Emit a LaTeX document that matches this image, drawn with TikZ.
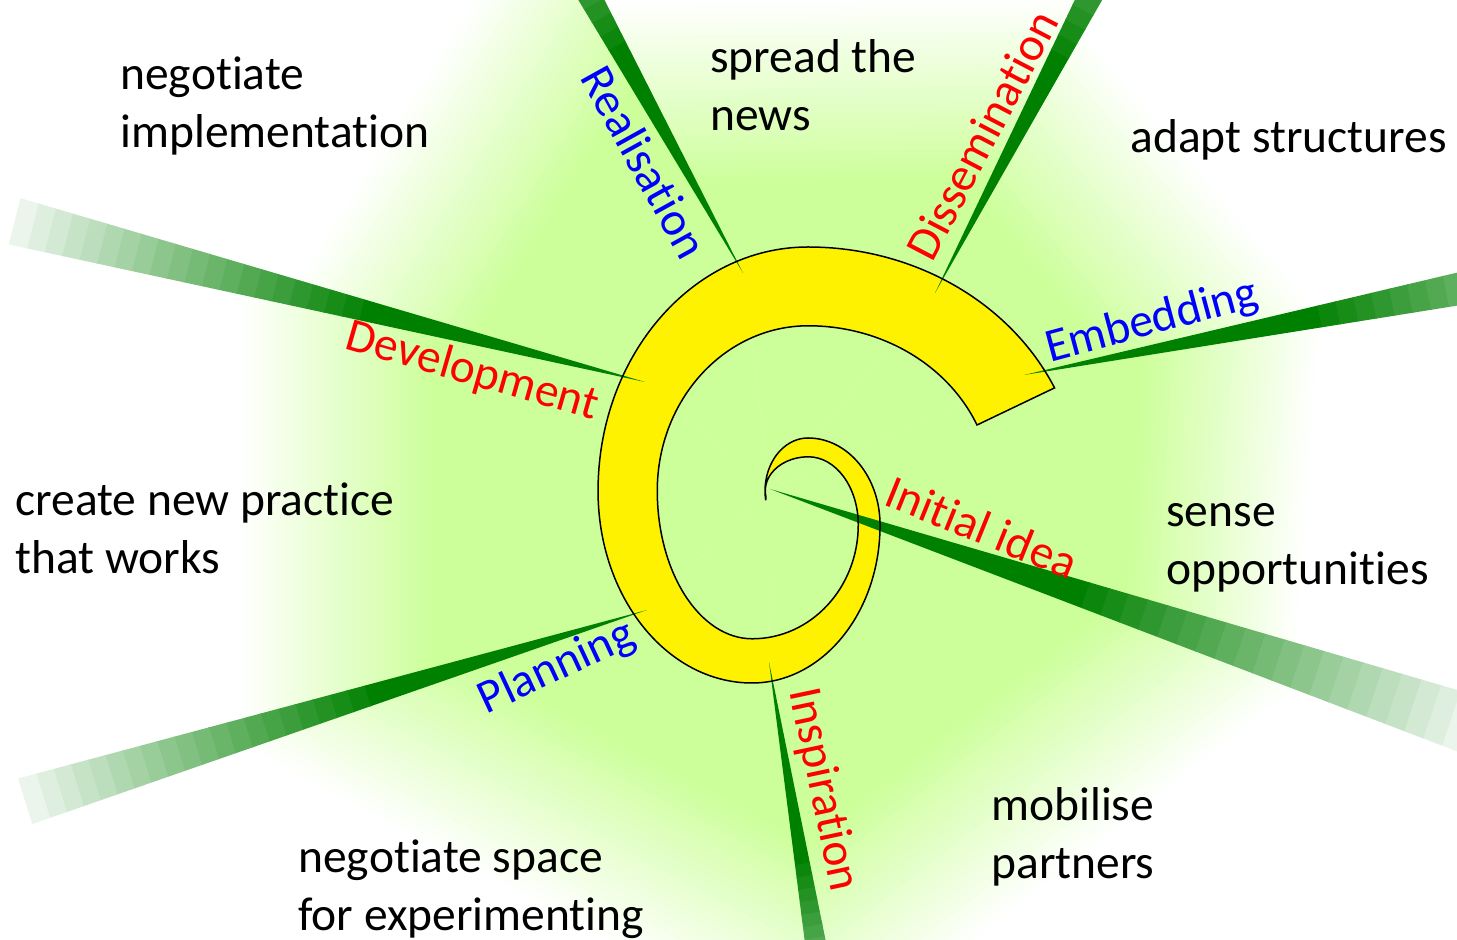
\documentclass[tikz,border=0pt]{standalone}
\usepackage{fontspec}
\setmainfont[Ligatures=NoCommon]{Carlito}
\usetikzlibrary{calc}
\definecolor{bggreen}{RGB}{204,255,153}
\definecolor{raygreen}{RGB}{0,128,0}
\definecolor{phasered}{RGB}{255,0,0}
\definecolor{phaseblue}{RGB}{0,0,255}

\newcommand{\greenray}[4]{
  \fill[raygreen] (#1) -- ($(#1)+(#2+#4:0.45*#3+1)$) -- ($(#1)+(#2-#4:0.45*#3+1)$) -- cycle;
  \foreach \k in {1,...,20}{
    \pgfmathsetmacro\ra{#3*(0.45+0.55*(\k-1)/20)}
    \pgfmathsetmacro\rb{#3*(0.45+0.55*\k/20)+1}
    \pgfmathsetmacro\mix{100-4.6*\k}
    \fill[raygreen!\mix!white] ($(#1)+(#2+#4:\ra)$) -- ($(#1)+(#2+#4:\rb)$)
      -- ($(#1)+(#2-#4:\rb)$) -- ($(#1)+(#2-#4:\ra)$) -- cycle;
  }
}

\newcommand{\bgsector}[7]{
  \begin{scope}
    \clip (#1) -- ($(#1)+(#2:1800)$) -- ($(#3)+(#4:1800)$) -- (#3) -- (c) -- cycle;
    \foreach \k in {1,...,24}{
      \pgfmathsetmacro\dk{#7-(#7-#6)*\k/24}
      \pgfmathsetmacro\mix{100*\k/24}
      \begin{scope}[shift={(c)}, rotate=#5]
        \fill[bggreen!\mix!white] (-2000,-2000) rectangle (\dk,2000);
      \end{scope}
    }
  \end{scope}
}

\newcommand{\spiralpath}{(765.7,-500.2)
  arc[start angle=190, end angle=90, x radius=43, y radius=53]
  arc[start angle=90, end angle=0, x radius=72, y radius=87]
  arc[start angle=0, end angle=-90, x radius=128, y radius=158]
  arc[start angle=-90, end angle=-180, x radius=154, y radius=192]
  arc[start angle=180, end angle=90, x radius=210, y radius=244]
  arc[start angle=90, end angle=25, x radius=272, y radius=244]
  -- (977,-425)
  arc[start angle=23.5, end angle=90, x radius=184, y radius=165]
  arc[start angle=90, end angle=180, x radius=151, y radius=165]
  arc[start angle=180, end angle=270, x radius=95, y radius=148]
  arc[start angle=270, end angle=360, x radius=106, y radius=114]
  arc[start angle=0, end angle=90, x radius=50, y radius=68]
  arc[start angle=90, end angle=190, x radius=43, y radius=34]
  -- cycle}

\tikzset{
  bigfont/.style={font=\fontsize{23.75}{29}\selectfont},
  plaintext/.style={bigfont, anchor=base west, align=left, inner sep=0pt},
  redphase/.style={bigfont, inner sep=0pt, text=phasered},
  bluephase/.style={bigfont, inner sep=0pt, text=phaseblue}
}

\begin{document}
\begin{tikzpicture}[x=0.5pt, y=0.5pt]
\useasboundingbox (0,0) rectangle (1457,-940);
\clip (0,0) rectangle (1457,-940);
\fill[white] (0,0) rectangle (1457,-940);

\coordinate (c) at (770,-490);
\coordinate (realtip) at (743,-273);
\coordinate (disstip) at (935,-293);
\coordinate (embtip) at (1024,-375);
\coordinate (inittip) at (770,-489);
\coordinate (insptip) at (769,-662);
\coordinate (plantip) at (647,-610);
\coordinate (devtip) at (645,-382);

\bgsector{realtip}{119}{disstip}{62.4}{90.7}{307}{495}
\bgsector{disstip}{62.4}{embtip}{11.2}{40}{345}{540}
\bgsector{embtip}{11.2}{inittip}{-18.6}{-4}{363}{542}
\bgsector{inittip}{-18.6}{insptip}{-80.6}{-52}{300}{486}
\bgsector{insptip}{-80.6}{plantip}{197.1}{-118}{293}{479}
\bgsector{plantip}{197.1}{devtip}{165.7}{180}{337}{535}
\bgsector{devtip}{165.7}{realtip}{119}{148}{330}{517}

\fill[yellow] \spiralpath;

\greenray{realtip}{119}{578}{2.1}
\greenray{disstip}{62.4}{600}{2.1}
\greenray{embtip}{11.2}{670}{2.1}
\greenray{inittip}{-18.6}{740}{2.3}
\greenray{insptip}{-80.6}{455}{2.1}
\greenray{plantip}{197.1}{650}{2.1}
\greenray{devtip}{165.7}{650}{2.1}

\draw[black, line width=0.75pt] \spiralpath;

\node[plaintext] (negimpl) at (120,-148) {negotiate\\implementation};
\node[plaintext] (spread) at (710,-131) {spread the\\news};
\node[plaintext] (adapt) at (1130,-153) {adapt structures};
\node[plaintext] (newpractice) at (15,-574) {create new practice\\that works};
\node[plaintext] (sense) at (1166,-585) {sense\\opportunities};
\node[plaintext] (mobilise) at (991,-878) {mobilise\\partners};
\node[plaintext] (negspace) at (298,-930) {negotiate space\\for experimenting};

\node[bluephase, rotate=-61] (realisation) at (645,-162) {Realisation};
\node[redphase, rotate=62.4] (dissemination) at (982,-135) {Dissemination};
\node[bluephase, rotate=15] (embedding) at (1152,-322) {Embedding};
\node[redphase, rotate=-22] (initialidea) at (982,-527) {Initial idea};
\node[redphase, rotate=-78] (inspiration) at (823,-790) {Inspiration};
\node[bluephase, rotate=25] (planning) at (557,-668) {Planning};
\node[redphase, rotate=-16] (development) at (472,-372) {Development};
\end{tikzpicture}
\end{document}
